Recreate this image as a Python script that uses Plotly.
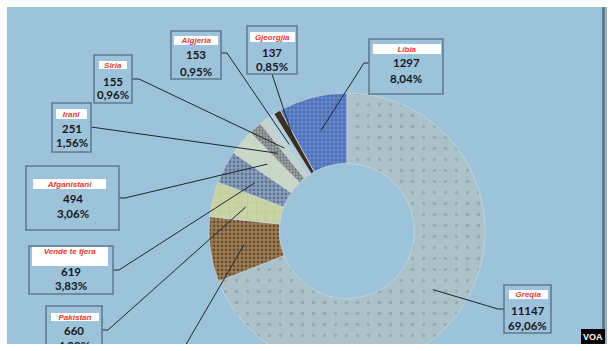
import math
import plotly.graph_objects as go

# ---------------- data ----------------
categories = ["Greqia", "Maroku", "Pakistan", "Vende te tjera", "Afganistani",
              "Irani", "Siria", "Algjeria", "Gjeorgjia", "Libia"]
values = [11147, 1228, 660, 619, 494, 251, 155, 153, 137, 1297]

total = sum(values)
pct_labels = [f"{v / total * 100:.2f}".replace(".", ",") + "%" for v in values]

# ---------------- styling ----------------
W, H = 612, 400          # figure taller than the 351px window: the donut runs off the bottom
def px(x): return x / W
def py(y): return 1 - y / H

CX, CY, R_OUT = 347, 231, 138
HOLE = 0.49
R_ANCHOR = 104

PANEL = "#9DC3DB"
BOX_LINE = "#5E7C93"
NAME_RED = "#E5392E"
TXT = "#17191C"

base_colors = ["#AAC2C8", "#9E7F56", "#C9D3A6", "#8AA0BB", "#C9D8C6",
               "#A0A5A6", "#C3D2CC", "#B4CFDC", "#3B2E22", "#4A6EB6"]
pat_shape = [".", ".", "+", ".", "", ".", "", "", "", "+"]
pat_fg = ["#92ACB3", "#6A5132", "#BAC496", "#617696", "#C9D8C6",
          "#6F7373", "#C3D2CC", "#B4CFDC", "#3B2E22", "#7F9BD3"]
pat_size = [11, 4, 9, 4, 6, 3, 6, 6, 6, 4]
pat_sol = [0.07, 0.4, 0.1, 0.4, 0.1, 0.45, 0.1, 0.1, 0.1, 0.3]

# label boxes (pixel positions): box, name band, value y, pct y, line start, elbow
boxes = {
    "Libia":          dict(box=(369, 39, 443, 94),  band=(373, 44, 441, 54),  vy=63,  py_=78,  start=(369, 63),  elbow=(364, 63)),
    "Gjeorgjia":      dict(box=(247, 26, 297, 74),  band=(250, 32, 295, 42),  vy=52,  py_=66,  start=(272, 74),  elbow=None),
    "Algjeria":       dict(box=(171, 31, 221, 79),  band=(174, 36, 218, 45),  vy=55,  py_=71,  start=(221, 53),  elbow=(227, 53)),
    "Siria":          dict(box=(94, 55, 132, 103),  band=(99, 61, 127, 69),   vy=81,  py_=94,  start=(132, 79),  elbow=(139, 79)),
    "Irani":          dict(box=(52, 103, 91, 152),  band=(56, 109, 87, 119),  vy=128, py_=143, start=(91, 127),  elbow=None),
    "Afganistani":    dict(box=(26, 166, 119, 230), band=(33, 179, 106, 189), vy=198, py_=213, start=(119, 198), elbow=(125, 198)),
    "Vende te tjera": dict(box=(29, 246, 113, 294), band=(32, 247, 108, 266), vy=271, py_=285, start=(113, 270), elbow=(119, 270)),
    "Pakistan":       dict(box=(46, 306, 102, 356), band=(51, 313, 99, 321),  vy=330, py_=345, start=(102, 330), elbow=(108, 330)),
    "Greqia":         dict(box=(504, 285, 551, 333), band=(509, 290, 548, 299), vy=310, py_=325, start=(504, 309), elbow=(498, 309)),
    "Maroku":         dict(box=None, band=None, vy=None, py_=None, start=(170, 372), elbow=None),
}

fig = go.Figure()
fig.add_trace(go.Pie(
    labels=categories, values=values, sort=False, direction="clockwise", rotation=0,
    hole=HOLE, textinfo="none", showlegend=False,
    domain=dict(x=[px(CX - R_OUT), px(CX + R_OUT)], y=[py(CY + R_OUT), py(CY - R_OUT)]),
    marker=dict(colors=base_colors, line=dict(color="#C5D6DD", width=0.8),
                pattern=dict(shape=pat_shape, fgcolor=pat_fg, bgcolor=base_colors,
                             size=pat_size, solidity=pat_sol)),
))

shapes = []
annotations = []
# panel
shapes.append(dict(type="rect", xref="paper", yref="paper", x0=px(7), x1=px(602), y0=py(344), y1=py(7),
                   fillcolor=PANEL, line=dict(width=0), layer="below"))
shapes.append(dict(type="rect", xref="paper", yref="paper", x0=px(602), x1=px(605.5), y0=py(344), y1=py(7),
                   fillcolor="#5D7C97", line=dict(width=0), layer="above"))
shapes.append(dict(type="rect", xref="paper", yref="paper", x0=px(605.5), x1=px(607), y0=py(344), y1=py(7),
                   fillcolor="#93ABBF", line=dict(width=0), layer="above"))

cum = 0
for cat, v, pct in zip(categories, values, pct_labels):
    mid = (cum + v / 2) / total * 2 * math.pi
    cum += v
    ax = CX + R_ANCHOR * math.sin(mid)
    ay = CY - R_ANCHOR * math.cos(mid)
    b = boxes[cat]
    pts = [b["start"]] + ([b["elbow"]] if b["elbow"] else []) + [(ax, ay)]
    path = "M " + " L ".join(f"{px(x):.5f},{py(y):.5f}" for x, y in pts)
    shapes.append(dict(type="path", xref="paper", yref="paper", path=path,
                       line=dict(color="#1E2730", width=1), layer="above"))
    if b["box"] is None:
        continue
    x0, y0, x1, y1 = b["box"]
    shapes.append(dict(type="rect", xref="paper", yref="paper", x0=px(x0), x1=px(x1), y0=py(y1), y1=py(y0),
                       line=dict(color=BOX_LINE, width=1.6), fillcolor="rgba(0,0,0,0)", layer="above"))
    bx0, by0, bx1, by1 = b["band"]
    tall = (by1 - by0) > 14
    annotations.append(dict(xref="paper", yref="paper", x=px((bx0 + bx1) / 2), y=py((by0 + by1) / 2),
                            xanchor="center", yanchor="middle", width=bx1 - bx0, height=by1 - by0,
                            bgcolor="white", borderpad=0, borderwidth=0, showarrow=False,
                            valign="top" if tall else "middle",
                            text=f"<b><i>{cat}</i></b>",
                            font=dict(family="Liberation Sans", size=8, color=NAME_RED)))
    cxm = (x0 + x1) / 2
    annotations.append(dict(xref="paper", yref="paper", x=px(cxm), y=py(b["vy"]), xanchor="center",
                            yanchor="middle", showarrow=False, text=f"<b>{v}</b>", borderpad=0,
                            font=dict(family="Lato", size=11.5, color=TXT)))
    annotations.append(dict(xref="paper", yref="paper", x=px(cxm), y=py(b["py_"]), xanchor="center",
                            yanchor="middle", showarrow=False, text=f"<b>{pct}</b>", borderpad=0,
                            font=dict(family="Lato", size=11.5, color=TXT)))

# VOA logo
shapes.append(dict(type="rect", xref="paper", yref="paper", x0=px(581), x1=px(605), y0=py(344), y1=py(329),
                   fillcolor="black", line=dict(width=0), layer="above"))
annotations.append(dict(xref="paper", yref="paper", x=px(593), y=py(336.5), xanchor="center", yanchor="middle",
                        showarrow=False, text="<b>VOA</b>",
                        font=dict(family="Liberation Sans", size=9, color="white")))
# white frame at the bottom, drawn last so it hides everything beneath
annotations.append(dict(xref="paper", yref="paper", x=0.5, y=py(344), xanchor="center", yanchor="top",
                        width=W, height=H - 344, bgcolor="white", borderwidth=0, borderpad=0,
                        showarrow=False, text=" ", font=dict(size=4)))

fig.update_layout(width=W, height=H, margin=dict(l=0, r=0, t=0, b=0), autosize=False,
                  paper_bgcolor="white", plot_bgcolor="white",
                  shapes=shapes, annotations=annotations)

fig.write_html("out.html",
               post_script="document.documentElement.style.overflow='hidden';"
                           "document.body.style.overflow='hidden';document.body.style.margin='0';")
